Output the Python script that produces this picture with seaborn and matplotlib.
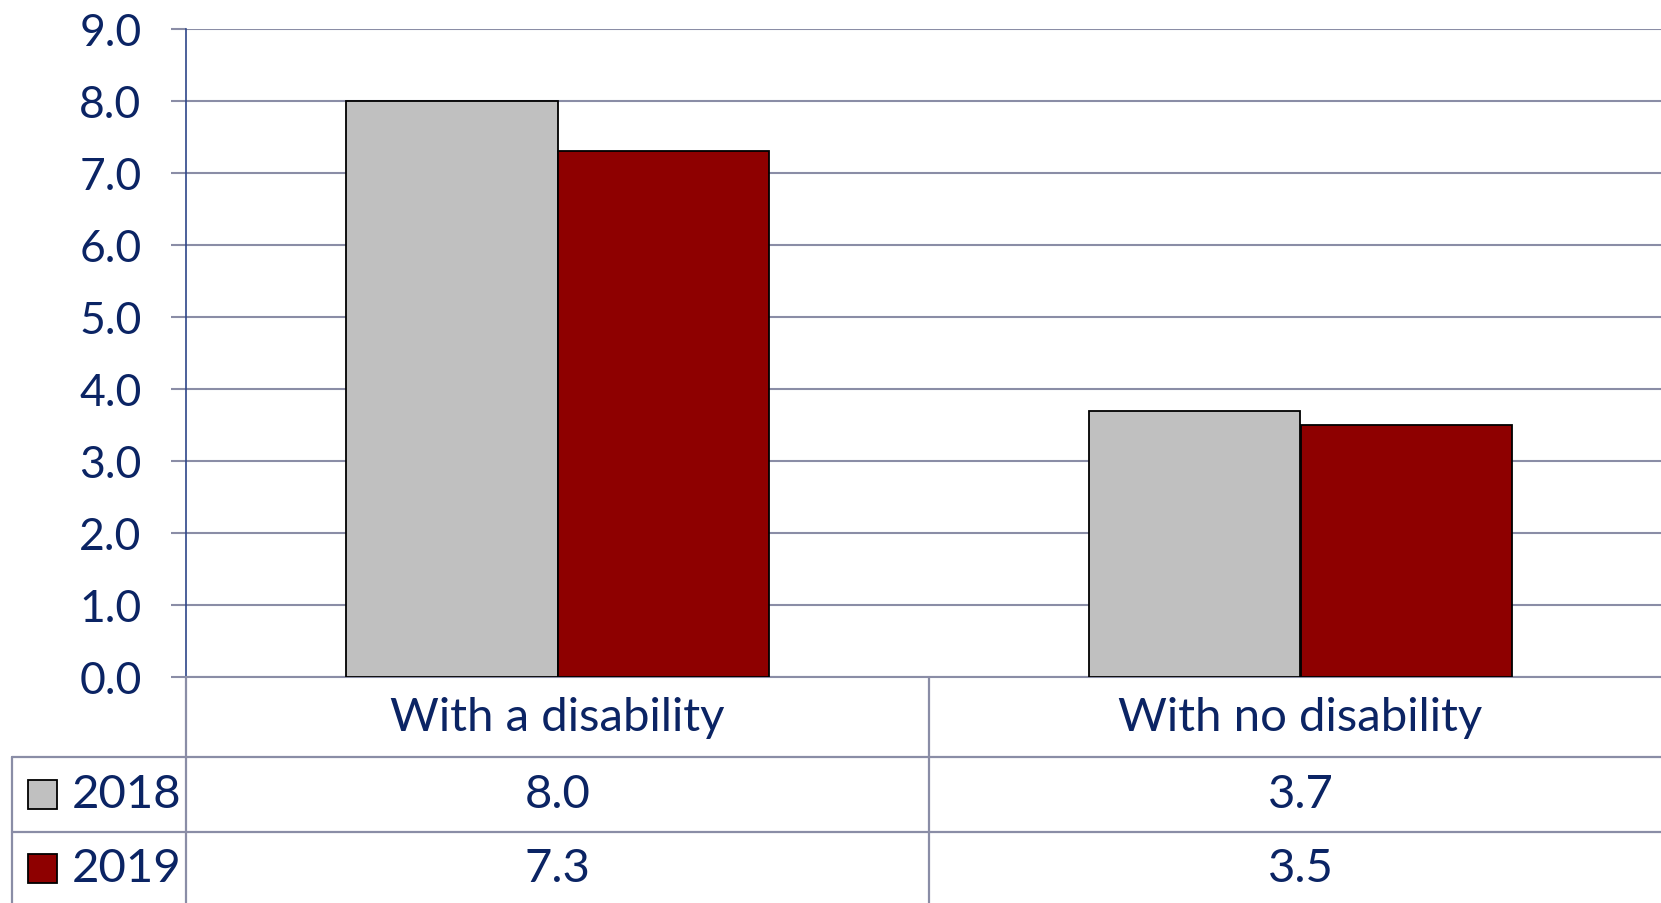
import matplotlib
matplotlib.use("Agg")
import matplotlib.pyplot as plt
import matplotlib.transforms as mtrans
from matplotlib.patches import Rectangle
import seaborn as sns
import pandas as pd

categories = ["With a disability", "With no disability"]
years = ["2018", "2019"]
values_2018 = [8.0, 3.7]
values_2019 = [7.3, 3.5]
yticks = [0, 1, 2, 3, 4, 5, 6, 7, 8, 9]

colors = {"2018": "#C0C0C0", "2019": "#8E0000"}
TEXT = "#0B2464"
GRID = "#8A8DA6"
AXIS = "#2E4689"

sns.set_theme(style="white")
plt.rcParams["font.family"] = ["Lato", "DejaVu Sans"]

df = pd.DataFrame({
    "category": categories * 2,
    "year": [years[0]] * 2 + [years[1]] * 2,
    "value": values_2018 + values_2019,
})

W, H = 1661, 904
fig = plt.figure(figsize=(W / 100, H / 100), dpi=100)
x0, x1, y0, y1 = 186, 1672, 678, 30
ax = fig.add_axes([x0 / W, 1 - y0 / H, (x1 - x0) / W, (y0 - y1) / H])

sns.barplot(data=df, x="category", y="value", hue="year", palette=colors,
            width=0.57, edgecolor="black", linewidth=1.3, saturation=1,
            legend=False, ax=ax, zorder=3)

ax.set_xlim(-0.5, 1.5)
ax.set_ylim(0, 9)
ax.set_yticks(yticks)
ax.set_yticklabels([f"{v:.1f}" for v in yticks], color=TEXT, fontsize=32)
ax.tick_params(axis="y", length=11, width=1.5, color=GRID, pad=21, left=True)
ax.set_xticks([])
ax.set_xlabel("")
ax.set_ylabel("")
ax.yaxis.grid(True, color=GRID, linewidth=1.5, zorder=0)
ax.set_axisbelow(True)
for s in ["top", "right"]:
    ax.spines[s].set_visible(False)
ax.spines["left"].set_color(AXIS)
ax.spines["left"].set_linewidth(1.2)
ax.spines["bottom"].set_color(GRID)
ax.spines["bottom"].set_linewidth(1.5)

# Data table below the chart
tab = fig.add_axes([0, 0, 1, 1], zorder=-1)
tab.set_xlim(0, W)
tab.set_ylim(H, 0)
tab.axis("off")
tab.patch.set_alpha(0)

lw = 1.6
tab.plot([186, 186], [678, H], color=GRID, lw=lw)
tab.plot([929, 929], [678, H], color=GRID, lw=lw)
tab.plot([12, 12], [758, H], color=GRID, lw=lw)
tab.plot([12, W], [758, 758], color=GRID, lw=lw)
tab.plot([12, W], [833, 833], color=GRID, lw=lw)

FS = 34
blend = mtrans.blended_transform_factory(ax.transData, tab.transData)
for i, cat in enumerate(categories):
    ax.text(i, 718, cat, transform=blend, ha="center", va="center",
            fontsize=FS, color=TEXT)
    ax.text(i, 795, f"{values_2018[i]:.1f}", transform=blend, ha="center",
            va="center", fontsize=FS, color=TEXT)
    ax.text(i, 869, f"{values_2019[i]:.1f}", transform=blend, ha="center",
            va="center", fontsize=FS, color=TEXT)

for yr, yc in zip(years, [795, 869]):
    tab.add_patch(Rectangle((28, yc - 14), 29, 29, facecolor=colors[yr],
                            edgecolor="black", lw=1.3))
    tab.text(72, yc, yr, ha="left", va="center", fontsize=FS, color=TEXT)

fig.savefig("out.png", dpi=100)
